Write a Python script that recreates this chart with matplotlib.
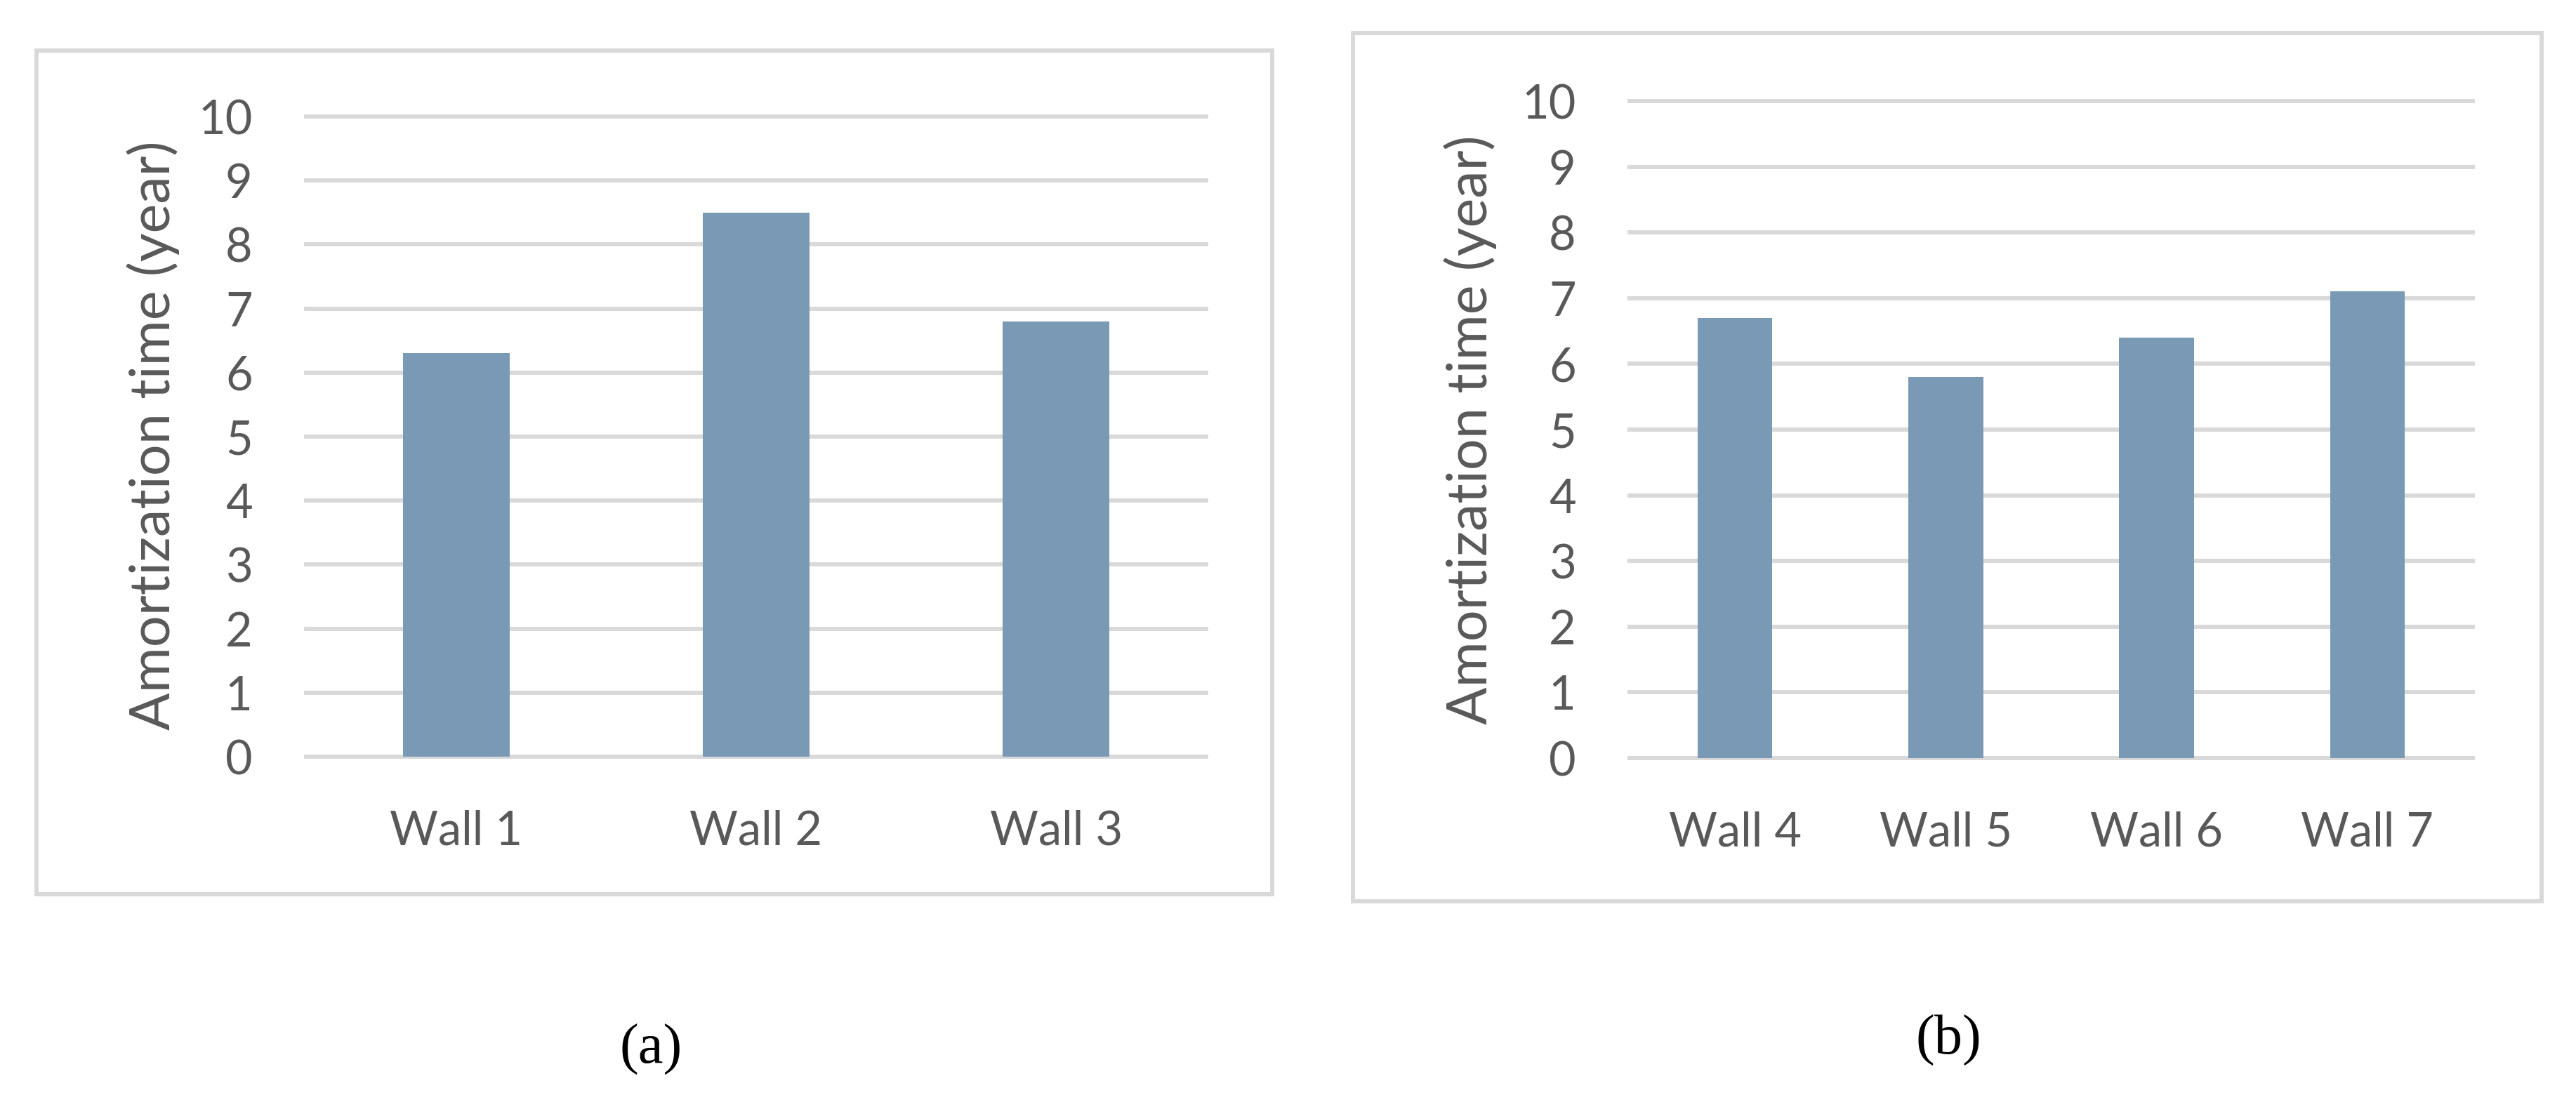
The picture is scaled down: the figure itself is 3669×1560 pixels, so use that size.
import matplotlib
matplotlib.use("Agg")
import matplotlib.pyplot as plt
from matplotlib.patches import Rectangle

# ---- data ----
walls_a = ["Wall 1", "Wall 2", "Wall 3"]
values_a = [6.3, 8.5, 6.8]
walls_b = ["Wall 4", "Wall 5", "Wall 6", "Wall 7"]
values_b = [6.7, 5.8, 6.4, 7.1]
y_ticks = list(range(0, 11))
y_label = "Amortization time (year)"
captions = ["(a)", "(b)"]

# ---- style ----
BAR = "#7A99B4"
GRID = "#D9D9D9"
TXT = "#595959"
FONT = "Lato"
plt.rcParams["font.family"] = [FONT, "DejaVu Sans"]

W, H, DPI = 3669, 1560, 100
fig = plt.figure(figsize=(W / DPI, H / DPI), dpi=DPI)
fig.patch.set_facecolor("white")

def fx(px):
    return px / W

def fy(py):
    return 1 - py / H

# panel frames (Excel chart area borders)
for (x0, y0, x1, y1) in [(52, 72, 1812, 1274), (1927, 47, 3620, 1284)]:
    fig.patches.append(Rectangle((fx(x0), fy(y1)), fx(x1) - fx(x0), fy(y0) - fy(y1),
                                 transform=fig.transFigure, fill=False,
                                 edgecolor=GRID, linewidth=4.3, zorder=0))

axes_specs = [
    (walls_a, values_a, (436, 1718, 166, 1078), (218, 620)),
    (walls_b, values_b, (2321, 3522, 144, 1080), (2094, 612)),
]

for cats, vals, (xl, xr, yt, yb), (lx, ly) in axes_specs:
    ax = fig.add_axes([fx(xl), fy(yb), fx(xr) - fx(xl), fy(yt) - fy(yb)])
    ax.set_facecolor("none")
    xs = list(range(len(cats)))
    ax.bar(xs, vals, width=0.355, color=BAR, zorder=3)
    ax.set_xlim(-0.5, len(cats) - 0.5)
    ax.set_ylim(0, 10)
    ax.set_yticks(y_ticks)
    ax.set_yticklabels([str(t) for t in y_ticks])
    ax.set_xticks(xs)
    ax.set_xticklabels(cats)
    for t in y_ticks:
        ax.axhline(t, color=GRID, linewidth=4.3, zorder=1, clip_on=False)
    for s in ax.spines.values():
        s.set_visible(False)
    ax.tick_params(axis="y", length=0, pad=55, labelsize=48, labelcolor=TXT)
    ax.tick_params(axis="x", length=0, pad=54, labelsize=48, labelcolor=TXT)
    ax.text(fx(lx), fy(ly), y_label, transform=fig.transFigure, rotation=90,
            ha="center", va="center", fontsize=57, color=TXT)

fig.text(fx(927), fy(1495), captions[0], ha="center", va="center",
         fontsize=58, family=["Liberation Serif", "DejaVu Serif"], color="black")
fig.text(fx(2775), fy(1482), captions[1], ha="center", va="center",
         fontsize=58, family=["Liberation Serif", "DejaVu Serif"], color="black")

fig.savefig("out.png", dpi=DPI, facecolor="white")
